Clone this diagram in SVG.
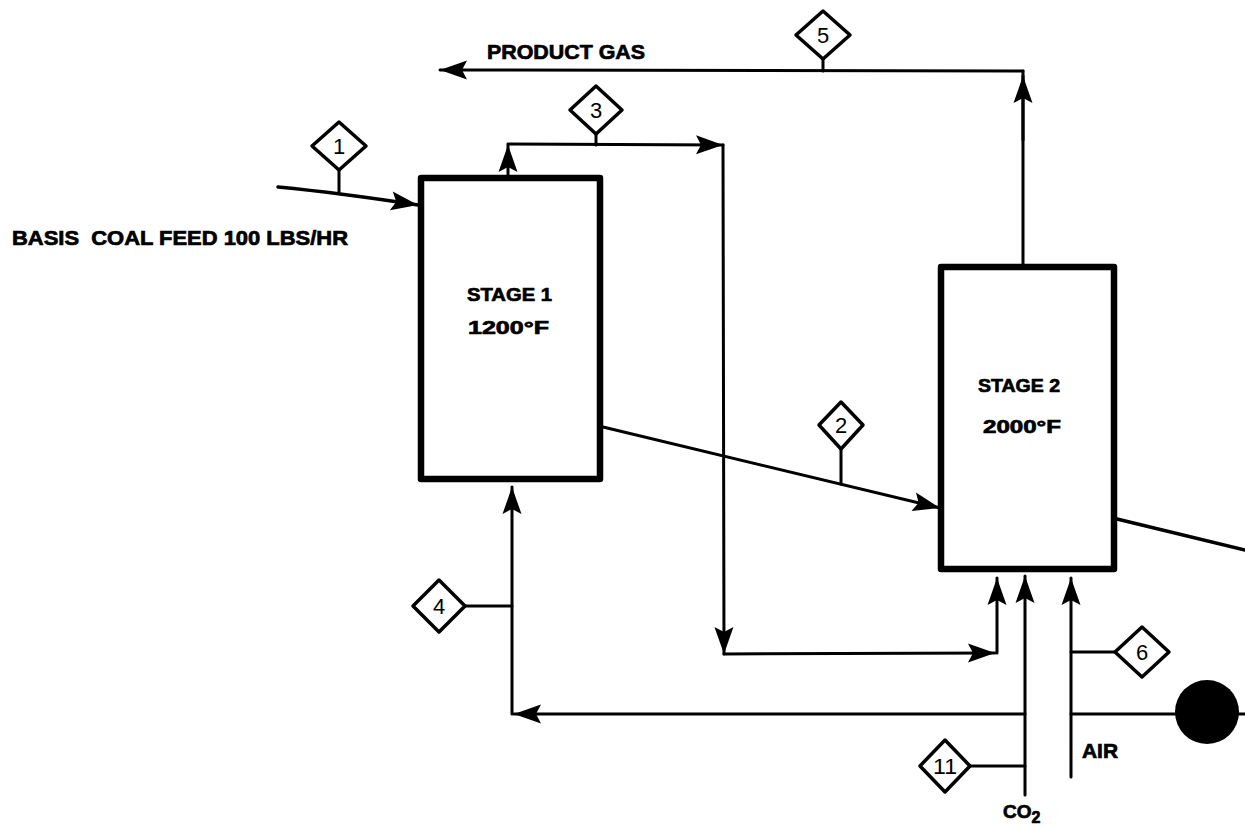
<svg xmlns="http://www.w3.org/2000/svg" width="1245" height="828" viewBox="0 0 1245 828">
<style>
.box{fill:#fff;stroke:#000;stroke-width:6.5;stroke-linejoin:round}
.ln{fill:none;stroke:#000;stroke-width:3;stroke-linecap:round;stroke-linejoin:round}
.dm{fill:#fff;stroke:#000;stroke-width:3.5;stroke-linejoin:round}
.lbl{font-family:"Liberation Sans",Arial,sans-serif;font-weight:bold;font-size:19px;fill:#000;stroke:#000;stroke-width:0.7}
.num{font-family:"Liberation Sans",Arial,sans-serif;font-size:22px;fill:#000;text-anchor:middle}
</style>
<defs>
<marker id="ah" viewBox="-28 -10 28 20" refX="0" refY="0" markerWidth="28" markerHeight="20" markerUnits="userSpaceOnUse" orient="auto">
<path d="M0,0 L-27,-9.5 L-22,0 L-27,9.5 Z" fill="#000"/>
</marker>
</defs>
<rect width="1245" height="828" fill="#fff"/>

<g id="connectors">
<!-- product gas -->
<path class="ln" d="M1023,264 L1023,71" />
<path class="ln" d="M1023,140 L1023,76" marker-end="url(#ah)"/>
<path class="ln" d="M1023,71 L440,70" marker-end="url(#ah)"/>
<!-- stream 1 -->
<path class="ln" d="M278,187 Q340,193 418,205" style="stroke-width:3.5" marker-end="url(#ah)"/>
<!-- stream 3 -->
<path class="ln" d="M508,175 L508,145" marker-end="url(#ah)"/>
<path class="ln" d="M508,144 L723,145" marker-end="url(#ah)"/>
<path class="ln" d="M723,145 L724,654" marker-end="url(#ah)"/>
<path class="ln" d="M724,654 L995,653" marker-end="url(#ah)"/>
<path class="ln" d="M997,653 L997,578" marker-end="url(#ah)"/>
<!-- stream 2 -->
<path class="ln" d="M603,427 L940,508" marker-end="url(#ah)"/>
<!-- stage 2 exit -->
<path class="ln" d="M1117,519 L1245,550" style="stroke-width:3.5"/>
<!-- return stream 4 -->
<path class="ln" d="M1025,714 L514,714" marker-end="url(#ah)"/>
<path class="ln" d="M512,714 L512,487" marker-end="url(#ah)"/>
<!-- CO2 -->
<path class="ln" d="M1025,795 L1025,576" marker-end="url(#ah)"/>
<!-- AIR -->
<path class="ln" d="M1071,777 L1071,578" marker-end="url(#ah)"/>
<path class="ln" d="M1071,714 L1245,714"/>
<circle cx="1207" cy="712" r="32" fill="#000"/>
<!-- diamond stems -->
<path class="ln" d="M339,170 L339,192"/>
<path class="ln" d="M596,134 L596,145"/>
<path class="ln" d="M823,59 L823,71"/>
<path class="ln" d="M841,449 L841,484"/>
<path class="ln" d="M465,606 L512,606"/>
<path class="ln" d="M1115,652 L1071,652"/>
<path class="ln" d="M970,766 L1025,766"/>
</g>

<g id="stage1">
<rect class="box" x="421" y="178" width="179" height="301"/>
<text class="lbl" x="467" y="301" textLength="85" lengthAdjust="spacingAndGlyphs">STAGE 1</text>
<text class="lbl" x="468" y="334" textLength="81" lengthAdjust="spacingAndGlyphs">1200°F</text>
</g>

<g id="stage2">
<rect class="box" x="941" y="267" width="173" height="302"/>
<text class="lbl" x="978" y="392" textLength="82" lengthAdjust="spacingAndGlyphs">STAGE 2</text>
<text class="lbl" x="983" y="433" textLength="78" lengthAdjust="spacingAndGlyphs">2000°F</text>
</g>

<g id="d1"><polygon class="dm" points="339,122 366,146 339,170 312,146"/><text class="num" x="339" y="154">1</text></g>
<g id="d3"><polygon class="dm" points="596,86 622,110 596,134 570,110"/><text class="num" x="596" y="118">3</text></g>
<g id="d5"><polygon class="dm" points="823,11 850,35 823,59 796,35"/><text class="num" x="823" y="43">5</text></g>
<g id="d2"><polygon class="dm" points="841,402 863,425 841,449 819,425"/><text class="num" x="841" y="433">2</text></g>
<g id="d4"><polygon class="dm" points="439,580 465,606 439,632 413,606"/><text class="num" x="439" y="614">4</text></g>
<g id="d6"><polygon class="dm" points="1142,627 1169,652 1142,677 1115,652"/><text class="num" x="1142" y="660">6</text></g>
<g id="d11"><polygon class="dm" points="945,740 970,766 945,792 920,766"/><text class="num" x="945" y="774" textLength="24" lengthAdjust="spacingAndGlyphs">11</text></g>

<g id="labels">
<text class="lbl" x="487" y="59" style="font-size:21px" textLength="158" lengthAdjust="spacingAndGlyphs">PRODUCT GAS</text>
<text class="lbl" x="12" y="245" style="font-size:20px" textLength="336" lengthAdjust="spacingAndGlyphs" xml:space="preserve">BASIS  COAL FEED 100 LBS/HR</text>
<text class="lbl" x="1082" y="758" style="font-size:20px" textLength="36" lengthAdjust="spacingAndGlyphs">AIR</text>
<text class="lbl" x="1003" y="818" style="font-size:19px">CO<tspan dy="5" style="font-size:16px">2</tspan></text>
</g>
</svg>
